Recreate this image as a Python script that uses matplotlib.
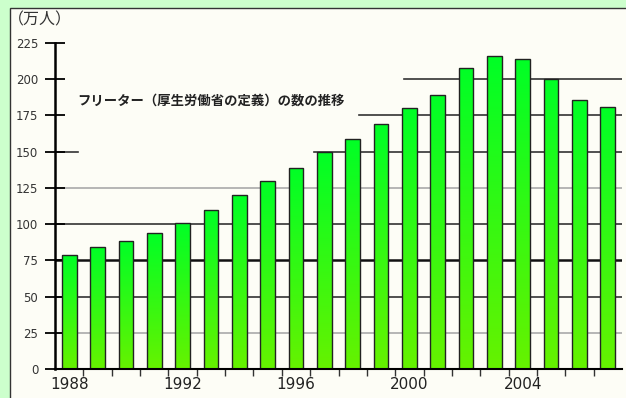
import numpy as np
import matplotlib
matplotlib.use("Agg")
import matplotlib.pyplot as plt
from matplotlib.patches import Rectangle

plt.rcParams['font.family'] = ['Noto Sans CJK JP', 'DejaVu Sans']

# フリーター数（万人）
years = list(range(1988, 2008))
values = [79, 84, 88, 94, 101, 110, 120, 130, 139, 150,
          159, 169, 180, 189, 208, 216, 214, 200, 186, 181]
xlabels = [1988, 1992, 1996, 2000, 2004]
yticks = [0, 25, 50, 75, 100, 125, 150, 175, 200, 225]

fig = plt.figure(figsize=(6.26, 3.98), dpi=100)
fig.patch.set_facecolor('#ccffcc')
# inner panel
fig.patches.append(Rectangle((10 / 626, -0.01), 1.0, (398 - 8) / 398 + 0.01,
                             transform=fig.transFigure, facecolor='#fdfdf6',
                             edgecolor='#333333', linewidth=1.0, zorder=-10))

ax = fig.add_axes([55 / 626, 29 / 398, 567 / 626, 326 / 398])
ax.set_facecolor('none')

# grid lines (some partly hidden behind the title)
ax.axhline(200, xmin=0.616, xmax=1, color='#333333', lw=1.2, zorder=1)
ax.axhline(175, xmin=0.536, xmax=1, color='#333333', lw=1.2, zorder=1)
ax.axhline(150, xmin=0.0, xmax=0.04, color='#333333', lw=1.2, zorder=1)
ax.axhline(150, xmin=0.457, xmax=1, color='#333333', lw=1.2, zorder=1)
ax.axhline(125, color='#aaaaaa', lw=1.2, zorder=1)
ax.axhline(100, color='#333333', lw=1.2, zorder=1)
ax.axhline(75, color='#111111', lw=1.8, zorder=1)
ax.axhline(50, color='#333333', lw=1.2, zorder=1)
ax.axhline(25, color='#aaaaaa', lw=1.2, zorder=1)

# bars with green gradient
bars = ax.bar(years, values, width=0.52, facecolor='none',
              edgecolor='#222222', linewidth=1.0, zorder=3)
grad = np.linspace(0, 1, 256).reshape(-1, 1)
top = np.array([0.0, 1.0, 0.15])
bottom = np.array([0.4, 0.95, 0.0])
img = top * (1 - grad[..., None]) + bottom * grad[..., None]
img = img.reshape(256, 1, 3)
for b in bars:
    x0, w, h = b.get_x(), b.get_width(), b.get_height()
    im = ax.imshow(img, extent=[x0, x0 + w, 0, h], aspect='auto',
                   origin='upper', zorder=2)
    im.set_clip_path(b)
ax.set_xlim(1987.5, 2007.5)
ax.set_ylim(0, 225)

for s in ['top', 'right']:
    ax.spines[s].set_visible(False)
ax.spines['left'].set_linewidth(1.8)
ax.spines['bottom'].set_linewidth(1.5)
ax.spines['left'].set_zorder(4)
ax.spines['bottom'].set_zorder(4)

ax.set_yticks(yticks)
ax.set_yticklabels([str(v) for v in yticks], fontsize=8.5, color='#333333',
                   family='DejaVu Sans')
ax.tick_params(axis='y', direction='inout', length=14, width=1.3, pad=5)

ax.set_xticks(xlabels)
ax.set_xticklabels([str(v) for v in xlabels], fontsize=11, color='#222222',
                   family='DejaVu Sans')
ax.tick_params(axis='x', length=0, pad=6)
ax.set_xticks(np.arange(1988.5, 2007, 1), minor=True)
ax.tick_params(axis='x', which='minor', length=5, width=1.0, color='#333333')

fig.text(8 / 626, 1 - 20 / 398, '（万人）', fontsize=11.5, va='center',
         ha='left', color='#333333')
ax.text(1988.3, 185, 'フリーター（厚生労働省の定義）の数の推移', fontsize=9.6,
        fontweight='bold', va='center', ha='left', color='#222222')

fig.savefig('out.png', dpi=100, facecolor=fig.get_facecolor())
